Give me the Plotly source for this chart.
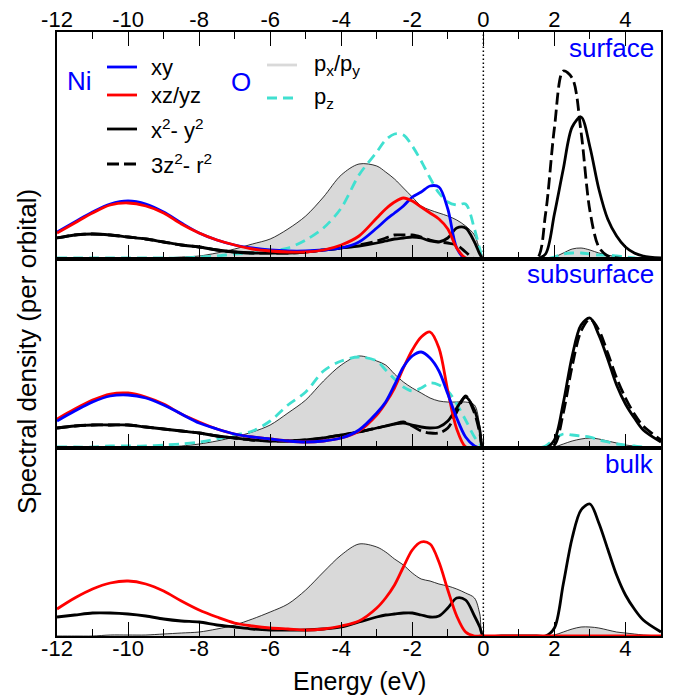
import plotly.graph_objects as go

# Energy grid (eV), shared by every projected density of states
energy = [-12, -11.5, -11, -10.5, -10, -9.5, -9, -8.5, -8, -7.5, -7, -6.5, -6, -5.5, -5, -4.5, -4, -3.5, -3,
          -2.75, -2.5, -2.25, -2, -1.75, -1.5, -1.25, -1, -0.75, -0.5, -0.25, -0.1, 0,
          0.5, 1, 1.5,
          1.75, 2, 2.25, 2.5, 2.75, 3, 3.25, 3.5, 3.75, 4, 4.25, 4.5, 5]

# Surface layer (arb. units)
surf_xy = [27, 37, 47, 55, 58, 55, 47, 36, 26, 19, 14, 11, 9, 8, 8, 9, 11, 17, 31,
           39, 46, 53, 62, 67, 73, 72, 50, 11, 0, 0, 0, 0,
           0, 0, 0,
           0, 0, 0, 0, 0, 0, 0, 0, 0, 0, 0, 0, 0]
surf_xz = [26, 36, 46, 54, 56, 53, 46, 35, 26, 19, 14, 10, 8, 7, 7, 9, 14, 23, 41,
           50, 57, 61, 58, 52, 46, 40, 30, 11, 1, 0, 0, 0,
           0, 0, 0,
           0, 0, 0, 0, 0, 0, 0, 0, 0, 0, 0, 0, 0]
surf_x2 = [21, 24, 25, 24, 22, 20, 17, 14, 12, 9, 7, 6, 6, 6, 7, 9, 11, 13, 16,
           18, 20, 21, 22, 21, 18, 17, 21, 31, 31, 17, 5, 0,
           0, 0, 0,
           5, 45, 90, 132, 142, 112, 70, 40, 23, 12, 6, 3, 1]
surf_z2 = [21, 24, 25, 24, 22, 20, 17, 14, 12, 9, 7, 6, 6, 6, 7, 9, 11, 14, 18,
           21, 24, 24, 24, 22, 19, 17, 16, 14, 7, 0, 0, 0,
           0, 0, 0,
           45, 131, 188, 181, 127, 48, 12, 3, 1, 0, 0, 0, 0]
surf_pxy = [0, 0, 0, 1, 1, 1, 1, 2, 3, 6, 10, 15, 20, 30, 43, 62, 84, 95, 93,
            87, 80, 71, 62, 53, 49, 46, 43, 39, 33, 24, 9, 0,
            0, 0, 0,
            0, 2, 6, 10, 11, 9, 6, 4, 2, 1, 0, 0, 0]
surf_pz = [1, 1, 1, 1, 1, 1, 1, 1, 2, 3, 5, 6, 8, 11, 19, 31, 51, 84, 107,
           119, 125, 124, 113, 98, 81, 66, 57, 54, 55, 30, 10, 0,
           0, 0, 0,
           0, 2, 5, 6, 6, 5, 4, 4, 3, 2, 1, 0, 0]

# Subsurface layer
sub_xy = [27, 37, 46, 52, 53, 50, 43, 34, 25, 19, 14, 11, 9, 7, 6, 7, 10, 18, 35,
          46, 63, 81, 92, 96, 90, 77, 54, 30, 11, 2, 0, 0,
          0, 0, 0,
          0, 0, 0, 0, 0, 0, 0, 0, 0, 0, 0, 0, 0]
sub_xz = [29, 39, 48, 54, 55, 51, 44, 34, 26, 19, 14, 11, 9, 7, 6, 7, 10, 17, 33,
          45, 60, 80, 98, 111, 116, 100, 57, 19, 1, 0, 0, 0,
          0, 0, 0,
          0, 0, 0, 0, 0, 0, 0, 0, 0, 0, 0, 0, 0]
sub_x2 = [20, 22, 23, 23, 23, 21, 19, 17, 15, 12, 10, 8, 7, 7, 8, 10, 13, 16, 20,
          22, 24, 25, 23, 21, 20, 21, 27, 40, 51, 38, 18, 0,
          0, 0, 0,
          0, 8, 45, 92, 123, 130, 113, 89, 63, 44, 30, 18, 6]
sub_z2 = [20, 22, 23, 23, 23, 21, 19, 17, 15, 12, 10, 8, 7, 7, 8, 10, 13, 16, 20,
          22, 24, 26, 22, 17, 15, 15, 20, 36, 52, 35, 15, 0,
          0, 0, 0,
          0, 3, 35, 82, 117, 129, 118, 95, 70, 50, 34, 22, 8]
sub_pxy = [0, 0, 0, 1, 1, 1, 1, 2, 4, 7, 11, 16, 23, 35, 48, 67, 83, 92, 87,
           83, 74, 66, 60, 55, 50, 47, 46, 46, 46, 43, 22, 0,
           0, 0, 0,
           0, 1, 4, 7, 9, 10, 9, 7, 5, 3, 2, 1, 0]
sub_pz = [1, 1, 1, 2, 2, 2, 3, 4, 6, 9, 13, 17, 27, 43, 56, 77, 87, 91, 87,
          78, 69, 61, 57, 60, 65, 63, 57, 44, 28, 11, 4, 0,
          0, 0, 0,
          2, 9, 14, 13, 12, 11, 8, 6, 4, 3, 2, 1, 0]

# Bulk
bulk_xz = [27, 38, 47, 53, 55, 52, 45, 35, 26, 19, 13, 10, 8, 7, 6, 7, 10, 15, 28,
           38, 51, 69, 86, 94, 92, 74, 46, 20, 4, 0, 0, 0,
           0, 0, 0,
           0, 0, 0, 0, 0, 0, 0, 0, 0, 0, 0, 0, 0]
bulk_x2 = [19, 21, 23, 23, 22, 20, 17, 15, 14, 11, 9, 7, 6, 6, 6, 7, 9, 14, 19,
           21, 22, 23, 23, 21, 19, 20, 28, 38, 36, 20, 9, 0,
           0, 0, 0,
           0, 8, 52, 98, 126, 132, 113, 87, 61, 41, 27, 16, 4]
bulk_pxy = [0, 0, 0, 1, 1, 1, 2, 3, 4, 7, 11, 17, 24, 32, 46, 64, 81, 92, 89,
            84, 77, 71, 63, 57, 55, 52, 50, 47, 43, 38, 22, 0,
            0, 0, 0,
            0, 1, 4, 7, 9, 9, 8, 6, 4, 3, 2, 1, 0]

# Axis ticks
major_ticks = [-12, -10, -8, -6, -4, -2, 0, 2, 4]
major_labels = ["-12", "-10", "-8", "-6", "-4", "-2", "0", "2", "4"]
minor_ticks = [-11, -9, -7, -5, -3, -1, 1, 3]
panel_names = ["surface", "subsurface", "bulk"]
panel_ymax = [227, 189, 188]

FONT = "Liberation Sans, Arial, Helvetica, sans-serif"
BLUE, RED, BLACK, CYAN = "#0000ff", "#ff0000", "#000000", "#40e0d0"
GRAY = "#d9d9d9"
DASH_D = "12px,5px"
DASH_P = "10px,6px"
LW = 2.8

# figure geometry in pixels
W_FIG, H_FIG = 679, 696
L, R, T, B = 57, 18, 32, 60
PW, PH = W_FIG - L - R, H_FIG - T - B


def xp(px):
    return (px - L) / PW


def yp(py):
    return (T + PH - py) / PH


# stacked panel domains (top to bottom), heights proportional to the y ranges
total = sum(panel_ymax)
domains = []
top = 1.0
for h in panel_ymax:
    domains.append([top - h / total, top])
    top -= h / total
domains[-1][0] = 0.0

fig = go.Figure()
axis_ids = ["", "2", "3"]


def line(y, color, panel, dash="solid", width=LW):
    k = axis_ids[panel]
    fig.add_trace(go.Scatter(x=energy, y=y, mode="lines", xaxis="x" + k, yaxis="y" + k,
                             line=dict(color=color, width=width, dash=dash,
                                       shape="spline", smoothing=0.9),
                             hoverinfo="skip", showlegend=False))


def filled(y, panel):
    k = axis_ids[panel]
    fig.add_trace(go.Scatter(x=energy, y=y, mode="lines", fill="tozeroy", fillcolor=GRAY,
                             xaxis="x" + k, yaxis="y" + k,
                             line=dict(color=BLACK, width=0.8, shape="spline", smoothing=0.9),
                             hoverinfo="skip", showlegend=False))


# surface
filled(surf_pxy, 0)
line(surf_pz, CYAN, 0, DASH_P)
line(surf_z2, BLACK, 0, DASH_D)
line(surf_x2, BLACK, 0)
line(surf_xy, BLUE, 0)
line(surf_xz, RED, 0)

# subsurface
filled(sub_pxy, 1)
line(sub_pz, CYAN, 1, DASH_P)
line(sub_z2, BLACK, 1, DASH_D)
line(sub_x2, BLACK, 1)
line(sub_xz, RED, 1)
line(sub_xy, BLUE, 1)

# bulk
filled(bulk_pxy, 2)
line(bulk_x2, BLACK, 2)
line(bulk_xz, RED, 2)

# carrier for the top energy axis
fig.add_trace(go.Scatter(x=[energy[0], energy[-1]], y=[0, 0], mode="lines",
                         line=dict(width=0), opacity=0, hoverinfo="skip",
                         showlegend=False, xaxis="x4", yaxis="y"))

xcommon = dict(range=[-12, 5], showline=True, mirror=True, linecolor=BLACK, linewidth=1.5,
               ticks="inside", tickmode="array", tickvals=major_ticks, ticktext=major_labels,
               ticklen=14, tickwidth=1, tickcolor=BLACK,
               minor=dict(tickmode="array", tickvals=minor_ticks, ticks="inside",
                          ticklen=7, tickwidth=1, tickcolor=BLACK),
               showgrid=False, zeroline=False, automargin=False,
               tickfont=dict(family=FONT, size=22, color=BLACK))

layout_axes = {}
for i, k in enumerate(axis_ids):
    xa = dict(xcommon)
    xa.update(anchor="y" + k, showticklabels=(i == 2))
    if i < 2:
        xa["matches"] = "x3"
    else:
        xa["ticklabelstandoff"] = -8
    layout_axes["xaxis" + k] = xa
    layout_axes["yaxis" + k] = dict(domain=domains[i], anchor="x" + k,
                                    range=[0, panel_ymax[i]], showline=True, mirror=True,
                                    linecolor=BLACK, linewidth=1.5, ticks="",
                                    showticklabels=False, showgrid=False, zeroline=False,
                                    automargin=False)

top_axis = dict(xcommon)
top_axis.update(overlaying="x", side="top", anchor="y", showline=False, mirror=False,
                showticklabels=True)
layout_axes["xaxis4"] = top_axis

shapes = [dict(type="line", xref="x3", yref="paper", x0=0, x1=0, y0=0, y1=1,
               line=dict(color=BLACK, width=1.5, dash="1.5px,2.5px"), layer="above")]
annotations = []


def text(s, px, py, size, color=BLACK, xanchor="left", yanchor="middle", angle=0):
    annotations.append(dict(text=s, x=xp(px), y=yp(py), xref="paper", yref="paper",
                            showarrow=False, xanchor=xanchor, yanchor=yanchor,
                            textangle=angle, font=dict(family=FONT, size=size, color=color)))


# Ni d-orbital key
text("Ni", 79, 81, 26, BLUE, xanchor="center")
ni_key = [("xy", BLUE, "solid", 67),
          ("xz/yz", RED, "solid", 95),
          ("x<sup>2</sup>- y<sup>2</sup>", BLACK, "solid", 129),
          ("3z<sup>2</sup>- r<sup>2</sup>", BLACK, DASH_D, 164)]
for label, color, dash, row_y in ni_key:
    shapes.append(dict(type="line", xref="paper", yref="paper", x0=xp(107), x1=xp(137),
                       y0=yp(row_y), y1=yp(row_y), line=dict(color=color, width=LW, dash=dash)))
    text(label, 149, row_y, 22)

# O p-orbital key
text("O", 241, 82, 26, BLUE, xanchor="center")
o_key = [("p<sub>x</sub>/p<sub>y</sub>", GRAY, "solid", 65),
         ("p<sub>z</sub>", CYAN, DASH_P, 98)]
for label, color, dash, row_y in o_key:
    shapes.append(dict(type="line", xref="paper", yref="paper", x0=xp(267), x1=xp(297),
                       y0=yp(row_y), y1=yp(row_y), line=dict(color=color, width=LW, dash=dash)))
    text(label, 312, row_y, 22)

# panel captions
for name, py in zip(panel_names, [48, 274, 464]):
    text(name, 656, py, 26, BLUE, xanchor="right")

# axis titles
text("Energy (eV)", 359, 681, 25, xanchor="center")
text("Spectral density (per orbital)", 27, 352, 26, xanchor="center", angle=-90)

fig.update_layout(width=W_FIG, height=H_FIG, margin=dict(l=L, r=R, t=T, b=B, autoexpand=False),
                  plot_bgcolor="white", paper_bgcolor="white", showlegend=False,
                  shapes=shapes, annotations=annotations,
                  font=dict(family=FONT, color=BLACK), **layout_axes)

fig.write_html("out.html")
